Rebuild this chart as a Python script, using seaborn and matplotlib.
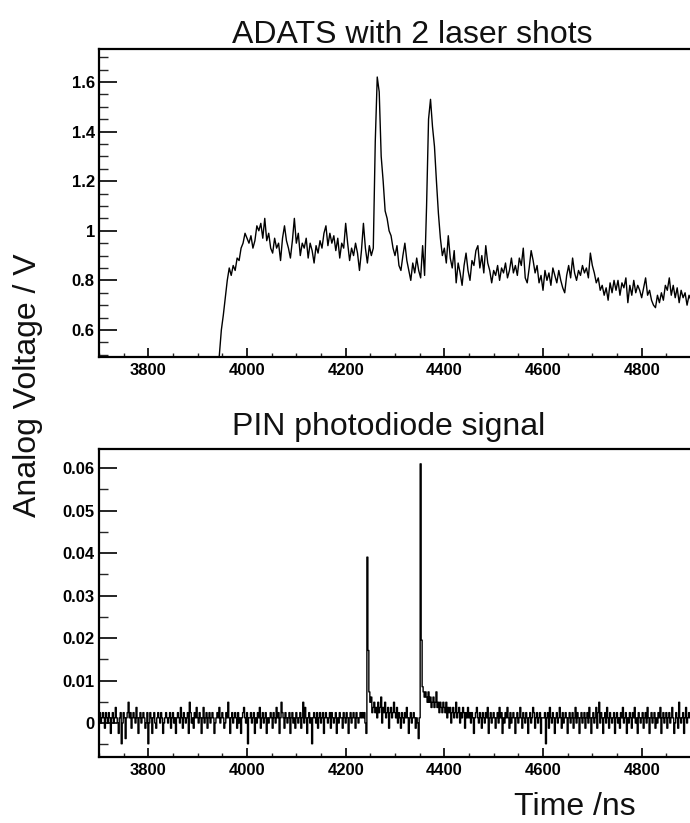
import numpy as np
import pandas as pd
import matplotlib
matplotlib.use("Agg")
import matplotlib.pyplot as plt
import seaborn as sns
from matplotlib.ticker import MultipleLocator, FuncFormatter

# ---------------- data ----------------
titles = ["ADATS with 2 laser shots", "PIN photodiode signal"]
y_label = "Analog Voltage / V"
x_label = "Time /ns"
x_major_ticks = [3800, 4000, 4200, 4400, 4600, 4800]
adats_yticks = [0.6, 0.8, 1.0, 1.2, 1.4, 1.6]
pin_yticks = [0.0, 0.01, 0.02, 0.03, 0.04, 0.05, 0.06]

# ADATS trace: one value every 4 ns starting at 3940 ns (V)
adats_t0 = 3940
adats_dt = 4
adats_v = [
    0.42,
    0.50, 0.60, 0.66, 0.73, 0.80, 0.85, 0.82, 0.86, 0.84, 0.89,
    0.88, 0.93, 0.95, 0.99, 0.97, 0.95, 0.98, 0.93, 0.96, 1.02,
    1.00, 1.03, 0.97, 1.05, 0.96, 0.99, 0.93, 0.91, 0.97, 0.93,
    0.95, 0.88, 0.97, 1.02, 0.96, 0.93, 0.89, 0.96, 1.05, 0.95,
    0.99, 0.90, 0.95, 0.93, 0.97, 0.89, 0.95, 0.92, 0.87, 0.94,
    0.91, 0.96, 0.93, 0.99, 1.02, 0.94, 0.99, 0.95, 0.98, 0.92,
    0.97, 0.89, 0.95, 0.93, 1.03, 0.95, 0.88, 0.93, 0.90, 0.95,
    0.91, 0.84, 0.92, 1.03, 0.93, 0.87, 0.94, 0.90, 0.93, 1.36,
    1.62, 1.56, 1.30, 1.20, 1.08, 1.05, 1.00, 0.98, 0.93, 0.90,
    0.94, 0.86, 0.84, 0.90, 0.95, 0.88, 0.84, 0.80, 0.87, 0.83,
    0.89, 0.84, 0.81, 0.94, 0.82, 1.10, 1.45, 1.53, 1.42, 1.34,
    1.20, 1.07, 0.97, 0.90, 0.93, 0.87, 0.98, 0.89, 0.85, 0.92,
    0.79, 0.87, 0.83, 0.78, 0.86, 0.91, 0.84, 0.80, 0.88, 0.86,
    0.92, 0.94, 0.85, 0.90, 0.83, 0.94, 0.87, 0.84, 0.79, 0.84,
    0.82, 0.86, 0.80, 0.85, 0.83, 0.87, 0.81, 0.84, 0.89, 0.83,
    0.86, 0.82, 0.89, 0.86, 0.93, 0.81, 0.79, 0.85, 0.92, 0.88,
    0.83, 0.86, 0.79, 0.82, 0.76, 0.84, 0.80, 0.83, 0.78, 0.85,
    0.82, 0.79, 0.84, 0.80, 0.77, 0.75, 0.82, 0.86, 0.81, 0.89,
    0.83, 0.80, 0.84, 0.82, 0.86, 0.83, 0.85, 0.81, 0.91, 0.86,
    0.83, 0.79, 0.81, 0.76, 0.78, 0.74, 0.77, 0.72, 0.79, 0.75,
    0.80, 0.76, 0.80, 0.74, 0.79, 0.77, 0.81, 0.71, 0.78, 0.74,
    0.80, 0.75, 0.78, 0.76, 0.73, 0.77, 0.81, 0.74, 0.76, 0.72,
    0.70, 0.69, 0.74, 0.71, 0.75, 0.72, 0.78, 0.76, 0.81, 0.74,
    0.78, 0.73, 0.77, 0.71, 0.76, 0.73, 0.75, 0.70, 0.74, 0.72,
]

# PIN photodiode trace: ADC levels every 2 ns starting at 3700 ns
pin_t0 = 3700
pin_dt = 2
pin_lsb_v = 0.00122
pin_adc = [
    1, 2, 0, 1, 2, 1, -1, 2, 1, 0, 2, 1, -2, 1, 2, 0, 1, 3, 1, 0, -2, 1, 2, -4, 0,
    2, 1, -3, 1, 2, 4, 1, 2, -1, 1, 2, 1, 0, 3, 1, -2, 1, 2, 0, 1, 2, 1, -1, 0, 2,
    -4, 0, 2, 1, -2, 1, 2, 0, -1, 1, 2, 1, 0, 2, 1, -2, 0, 1, 2, 1, 0, 1, 2, -1, 1,
    2, 0, 1, -2, 1, 2, 1, 0, 3, 1, -1, 2, 1, 0, 1, 2, -2, 4, 2, 0, 1, -1, 2, 1, 3,
    1, 0, 2, 1, -2, 1, 3, 0, 1, 2, -1, 1, 2, 0, 1, 2, 1, -2, 0, 1, 2, 1, 3, 0, 1,
    2, 1, -1, 0, 2, 1, 4, 1, -2, 1, 2, 0, 1, 2, 1, -1, 2, 0, 1, -2, 1, 2, 3, 1, 0,
    2, -4, 1, 1, 2, 0, 1, 2, -2, 1, 0, 2, 1, 3, -1, 1, 2, 0, 1, 2, -2, 1, 0, 1, 2,
    1, -1, 2, 1, 0, 3, 1, 2, -2, 1, 4, 2, 1, -1, 2, 1, 0, 1, 2, -2, 1, 2, 0, 1, -1,
    2, 1, 0, 1, 2, -1, 1, 4, 0, 3, 1, -2, 1, 2, 0, 1, -4, 1, 2, 1, 0, 2, -1, 1, 2,
    0, 1, 2, -2, 1, 2, 1, 0, 1, 2, -1, 2, 1, 0, 1, 2, -2, 1, 0, 2, 1, 1, -1, 2, 1,
    0, 2, 1, -2, 1, 2, 0, 1, 2, 1, -1, 2, 1, 0, 1, 2, 1, 2, 1, 2, 0, -2, 32, 14, 6,
    4, 5, 2, 3, 4, 2, 3, 1, 4, 2, 3, 5, 0, 3, 2, 4, 1, 2, 3, -1, 2, 3, 1, 2, 4,
    2, 1, 3, 0, 2, 1, -1, 2, 1, 0, 2, 1, 3, 1, -2, 1, 2, 0, 1, 2, 1, -1, 1, 0, -3,
    1, 50, 16, 7, 6, 5, 6, 5, 4, 6, 4, 5, 3, 4, 5, 3, 4, 6, 3, 4, 2, 4, 3, 2, 4,
    3, 2, 4, 1, 3, 2, 3, 0, 2, 3, 1, 2, 4, 1, 2, 3, 0, 2, 1, 3, 2, -1, 2, 1, 3,
    1, 2, 0, 2, 1, -2, 1, 2, 3, 1, 0, 2, 1, -1, 2, 1, 0, 2, 1, 3, -2, 1, 2, 0, 1,
    2, 1, -1, 1, 2, 0, 3, 1, 2, -2, 1, 0, 2, 1, 3, 1, -1, 2, 0, 1, 2, 1, -2, 1, 2,
    0, 1, 3, 1, -1, 2, 1, 0, 2, 1, -2, 1, 2, 0, 1, 3, 2, -1, 1, 2, 0, 1, 2, -2, 1,
    1, 1, 2, -4, 1, 2, -1, 3, 1, 0, 2, 1, -2, 1, 2, 0, 1, 3, 1, -1, 2, 0, 1, 2, 1,
    -2, 1, 2, 0, 1, 2, -1, 1, 3, 0, 2, 1, -2, 1, 2, 0, 1, 2, -1, 1, 2, 0, 3, 1, -2,
    1, 2, 0, 1, 3, -1, 2, 4, 0, 2, 1, -2, 1, 2, 0, 3, 1, -1, 2, 1, 0, 1, 2, -2, 1,
    2, 0, 1, -1, 2, 1, 3, 0, 1, 2, -2, 1, 0, 2, 1, -1, 2, 1, 3, 0, 1, -2, 2, 1, 0,
    1, 2, -1, 1, 2, 0, 3, 1, -2, 1, 2, 0, 1, 2, -1, 1, 0, 2, 1, 3, -2, 1, 2, 0, 1,
    2, -1, 1, 2, 0, 1, 3, 1, -2, 0, 2, 1, -1, 4, 1, 0, 1, 2, -2, 1, 3, 0, 1, 2, 1,
    1,
]

# ---------------- frames ----------------
adats_df = pd.DataFrame({
    "t": adats_t0 + adats_dt * np.arange(len(adats_v)),
    "v": adats_v,
})
pin_df = pd.DataFrame({
    "t": pin_t0 + pin_dt * np.arange(len(pin_adc)),
    "v": np.asarray(pin_adc) * pin_lsb_v,
})

# ---------------- style ----------------
sns.set_theme(style="white")
plt.rcParams["font.family"] = ["Liberation Sans", "DejaVu Sans"]

W, H = 690, 823
fig = plt.figure(figsize=(W / 100, H / 100), dpi=100)
fig.patch.set_facecolor("white")

left = 99 / W
width = (691 - 99) / W
ax_h = 308 / H
ax1 = fig.add_axes([left, 1 - 357 / H, width, ax_h])
ax2 = fig.add_axes([left, 1 - 757 / H, width, ax_h])

sns.lineplot(data=adats_df, x="t", y="v", ax=ax1, color="black",
             linewidth=1.0, estimator=None, sort=False)
sns.lineplot(data=pin_df, x="t", y="v", ax=ax2, color="black",
             linewidth=1.0, estimator=None, sort=False, drawstyle="steps-mid")

fmt = FuncFormatter(lambda v, _: f"{v:g}")

for ax, yt, ylim, yminor in [
    (ax1, adats_yticks, (0.491, 1.733), 0.05),
    (ax2, pin_yticks, (-0.0080, 0.0645), 0.005),
]:
    ax.set_facecolor("white")
    ax.set_xlim(3700, 4900)
    ax.set_ylim(*ylim)
    ax.set_xticks(x_major_ticks)
    ax.xaxis.set_minor_locator(MultipleLocator(50))
    ax.set_yticks(yt)
    ax.yaxis.set_minor_locator(MultipleLocator(yminor))
    ax.yaxis.set_major_formatter(fmt)
    ax.xaxis.set_major_formatter(fmt)
    ax.set_xlabel("")
    ax.set_ylabel("")
    ax.grid(False)
    for side in ["left", "bottom", "top"]:
        ax.spines[side].set_visible(True)
        ax.spines[side].set_color("black")
        ax.spines[side].set_linewidth(1.6)
    ax.spines["right"].set_visible(False)
    ax.tick_params(axis="y", which="major", direction="in", length=13, width=1.2,
                   left=True, right=False, pad=3, labelsize=12, colors="black")
    ax.tick_params(axis="y", which="minor", direction="in", length=6.5, width=1.0,
                   left=True, right=False)
    ax.tick_params(axis="x", which="major", direction="in", length=6.5, width=1.2,
                   bottom=True, top=False, pad=4, labelsize=12, colors="black")
    ax.tick_params(axis="x", which="minor", direction="in", length=3, width=1.0,
                   bottom=True, top=False)
    for lab in ax.get_xticklabels() + ax.get_yticklabels():
        lab.set_fontweight("bold")

# titles (left aligned, as in the reference)
fig.text(232 / W, 1 - 43 / H, titles[0], ha="left", va="baseline",
         fontsize=23, color="#111111")
fig.text(232 / W, 1 - 435 / H, titles[1], ha="left", va="baseline",
         fontsize=23, color="#111111")

fig.text(28 / W, 1 - 385 / H, y_label, rotation=90, ha="center", va="center",
         fontsize=23, color="#111111")
fig.text(636 / W, 1 - 815 / H, x_label, ha="right", va="baseline",
         fontsize=23, color="#111111")

fig.savefig("out.png", dpi=100, facecolor="white")
